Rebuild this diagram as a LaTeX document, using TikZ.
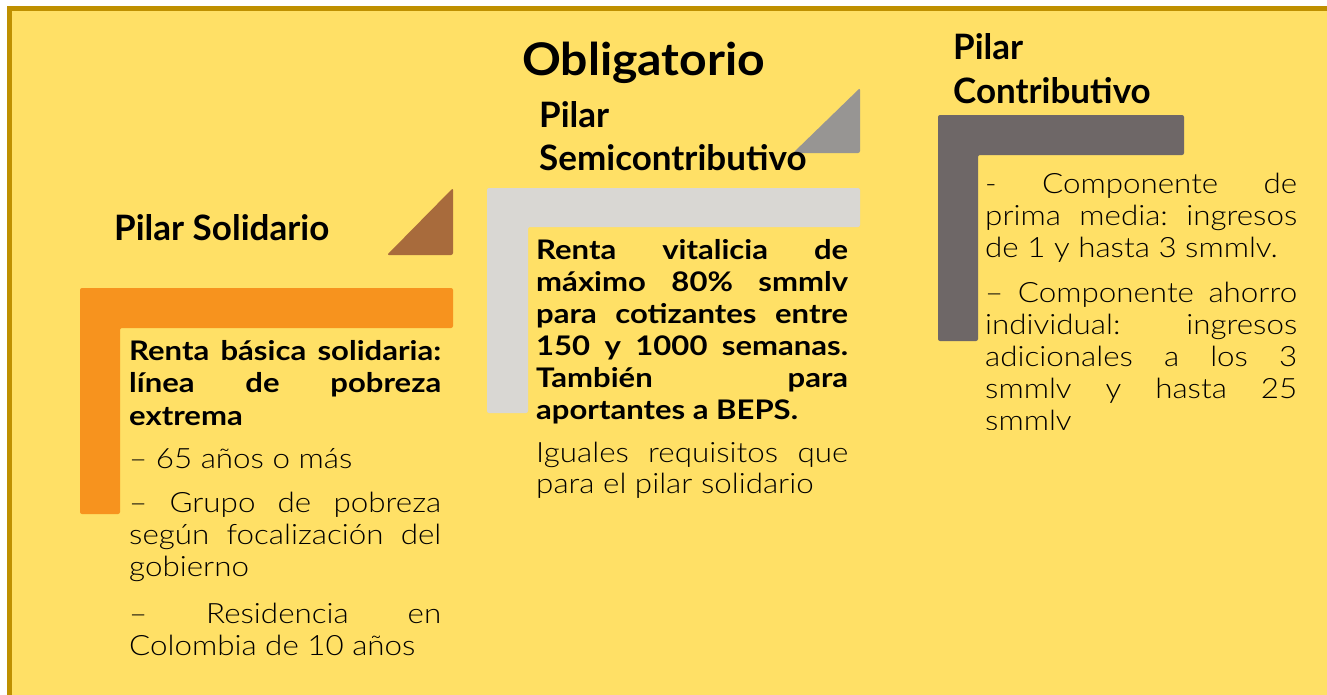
\documentclass[tikz,border=0pt]{standalone}
\usepackage{fontspec}
\setmainfont{Lato}
\newfontfamily\lightfont{Lato Light}[FakeStretch=1.12]
\newfontfamily\boldbody{Lato}[FakeStretch=1.15]
\newfontfamily\oblfont{Lato}[FakeStretch=1.07]
\definecolor{bgyellow}{HTML}{FFE066}
\definecolor{framegold}{HTML}{BF9000}
\definecolor{orangeL}{HTML}{F7931E}
\definecolor{brownT}{HTML}{A86B3C}
\definecolor{lgrey}{HTML}{D9D7D3}
\definecolor{mgrey}{HTML}{979593}
\definecolor{dgrey}{HTML}{6E6767}
\newcommand\JL[1]{\hbox to \linewidth{\spaceskip=0.25em plus 1fil minus 0.1em\relax #1}}
\newcommand\LL[1]{\hbox{#1}}
\tikzset{
  hdr/.style={anchor=base west, inner sep=0pt, font=\bfseries\fontsize{35}{43}\selectfont},
  body/.style={anchor=base west, inner sep=0pt},
  lshape/.style={rounded corners=2pt},
}
\begin{document}
\begin{tikzpicture}[x=1pt,y=-1pt]
\useasboundingbox (0,0) rectangle (1327,694);
\clip (0,0) rectangle (1327,694);
\draw[framegold, line width=4.5pt, fill=bgyellow] (9.7,8.5) rectangle (1350,720);
% shapes
\fill[orangeL, lshape] (80,288) -- (453,288) -- (453,328) -- (120,328) -- (120,514) -- (80,514) -- cycle;
\fill[brownT, lshape] (387,255) -- (453,188) -- (453,255) -- cycle;
\fill[lgrey, lshape] (487,188) -- (860,188) -- (860,227) -- (528,227) -- (528,413) -- (487,413) -- cycle;
\fill[mgrey, lshape] (793,153) -- (860,88) -- (860,153) -- cycle;
\fill[dgrey, lshape] (938,115) -- (1184,115) -- (1184,155) -- (978,155) -- (978,341) -- (938,341) -- cycle;
% headings
\node[anchor=base west, inner sep=0pt, font=\oblfont\bfseries\fontsize{45}{50}\selectfont] (obl) at (522,75) {Obligatorio};
\node[hdr] (ps) at (114,240) {Pilar Solidario};
\node[hdr] (psc) at (539,127) {\parbox[t]{400pt}{\fontsize{35}{43}\selectfont\bfseries Pilar\\Semicontributivo}};
\node[hdr] (pc) at (953,59) {\parbox[t]{400pt}{\fontsize{35}{44}\selectfont\bfseries Pilar\\Contributivo}};
% left body
\node[body] (lb) at (129,360) {\parbox[t]{312pt}{\fontsize{27}{32.5}\selectfont\frenchspacing
  {\boldbody\bfseries\JL{Renta básica solidaria:}\JL{línea de pobreza}\LL{extrema}}
  \vskip 11pt
  {\lightfont\fontsize{28}{32}\selectfont
  \LL{– 65 años o más}
  \vskip 12pt
  \JL{– Grupo de pobreza}\JL{según focalización del}\LL{gobierno}
  \vskip 15pt
  \JL{– Residencia en}\LL{Colombia de 10 años}}}};
% middle body
\node[body] (mb) at (536,259) {\parbox[t]{312pt}{\fontsize{27}{32}\selectfont\frenchspacing
  {\boldbody\bfseries\JL{Renta vitalicia de}\JL{máximo 80\% smmlv}\JL{para cotizantes entre}\JL{150 y 1000 semanas.}\JL{También para}\LL{aportantes a BEPS.}}
  \vskip 12pt
  {\lightfont\fontsize{28}{31}\selectfont
  \JL{Iguales requisitos que}\LL{para el pilar solidario}}}};
% right body
\begin{scope}
\clip (975,100) rectangle (1320,429);
\node[body] (rb) at (985,193) {\parbox[t]{312pt}{\lightfont\fontsize{28}{32}\selectfont\frenchspacing
  \JL{- Componente de}\JL{prima media: ingresos}\LL{de 1 y hasta 3 smmlv.}
  \vskip 13pt
  \JL{– Componente ahorro}\JL{individual: ingresos}\JL{adicionales a los 3}\JL{smmlv y hasta 25}\LL{smmlv}}};
\end{scope}
\end{tikzpicture}
\end{document}
